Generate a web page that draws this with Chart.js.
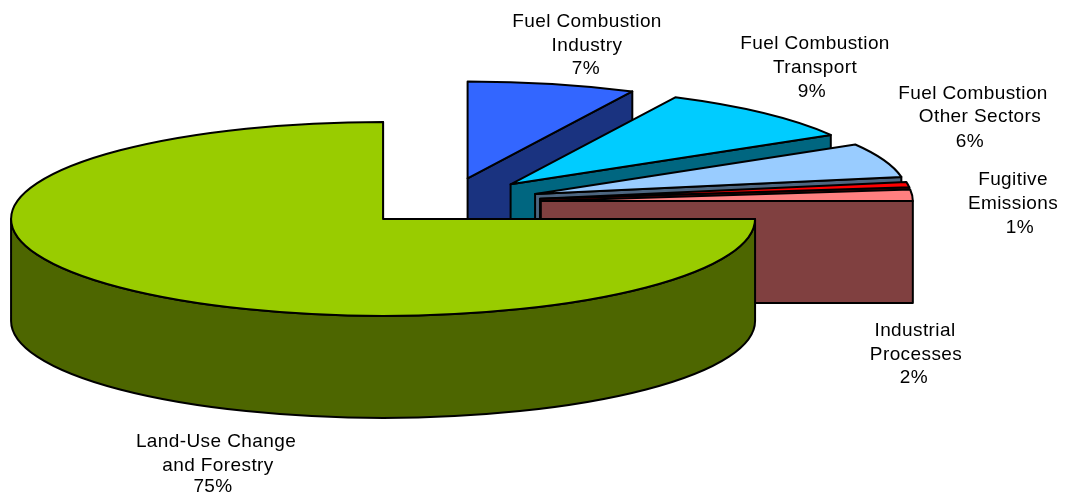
<!DOCTYPE html>
<html>
<head>
<meta charset="utf-8">
<title>Emissions by sector</title>
<script src="https://cdn.jsdelivr.net/npm/chart.js@4"></script>
<style>
  html, body { margin: 0; padding: 0; background: #fff; }
  canvas { display: block; }
</style>
</head>
<body>
<canvas id="pieChart" width="1067" height="494"></canvas>
<script>
const categories = ['Land-Use Change and Forestry', 'Fuel Combustion Industry', 'Fuel Combustion Transport', 'Fuel Combustion Other Sectors', 'Fugitive Emissions', 'Industrial Processes'];
const shares = [75, 7.3, 9.2, 5.7, 0.9, 1.9];
const topColors = ['#99CC00', '#3366FF', '#00CCFF', '#99CCFF', '#FF0000', '#FF8080'];
const sideColors = ['#4D6600', '#1A3380', '#006680', '#4D6680', '#800000', '#804040'];
const labelLines = [
  ['Land-Use Change', 'and Forestry', '75%'],
  ['Fuel Combustion', 'Industry', '7%'],
  ['Fuel Combustion', 'Transport', '9%'],
  ['Fuel Combustion', 'Other Sectors', '6%'],
  ['Fugitive', 'Emissions', '1%'],
  ['Industrial', 'Processes', '2%']
];
// centre of each label line, the reference is not quite aligned
const labelSpots = [
  [[216, 442], [218, 466], [213, 487]],
  [[587, 22], [587, 46], [586, 69]],
  [[815, 44], [815, 68], [812, 92]],
  [[973, 94], [980, 117], [970, 142]],
  [[1013, 180], [1013, 204], [1020, 228]],
  [[915, 331], [916, 355], [914, 378]]
];

// flattened pie geometry
const centerX = 446, centerY = 202.5;
const radiusX = 372, radiusY = 97, depth = 102;
const explode = [89, 95, 95, 95, 95, 95];

const pie3d = {
  id: 'pie3d',
  beforeDatasetsDraw(chart) {
    const ctx = chart.ctx;
    const arcs = chart.getDatasetMeta(0).data;
    // back to front, the big slice goes last
    [1, 2, 3, 4, 5, 0].forEach(i => {
      const arc = arcs[i];
      const start = arc.startAngle, end = arc.endAngle;
      const mid = (start + end) / 2;
      const ax = centerX + Math.cos(mid) * explode[i];
      const ay = centerY + Math.sin(mid) * explode[i] * radiusY / radiusX;
      const rimX = a => ax + Math.cos(a) * radiusX;
      const rimY = a => ay + Math.sin(a) * radiusY;

      ctx.save();
      ctx.lineWidth = 2;
      ctx.lineJoin = 'round';
      ctx.strokeStyle = '#000';
      ctx.fillStyle = sideColors[i];

      // flat faces
      const face = a => {
        ctx.beginPath();
        ctx.moveTo(ax, ay);
        ctx.lineTo(rimX(a), rimY(a));
        ctx.lineTo(rimX(a), rimY(a) + depth);
        ctx.lineTo(ax, ay + depth);
        ctx.closePath();
        ctx.fill();
        ctx.stroke();
      };
      if (Math.cos(start) < -1e-6) face(start);
      if (Math.cos(end) > -1e-6) face(end);

      // curved wall, only the part facing us
      if (start < Math.PI) {
        const wallEnd = Math.min(end, Math.PI);
        ctx.beginPath();
        ctx.ellipse(ax, ay, radiusX, radiusY, 0, start, wallEnd);
        ctx.ellipse(ax, ay + depth, radiusX, radiusY, 0, wallEnd, start, true);
        ctx.closePath();
        ctx.fill();
        ctx.stroke();
      }

      // top face comes from the chart's own arc
      ctx.save();
      ctx.translate(ax, ay);
      ctx.scale(radiusX / arc.outerRadius, radiusY / arc.outerRadius);
      ctx.translate(-arc.x, -arc.y);
      arc.draw(ctx);
      ctx.restore();

      ctx.beginPath();
      ctx.moveTo(ax, ay);
      ctx.ellipse(ax, ay, radiusX, radiusY, 0, start, end);
      ctx.closePath();
      ctx.stroke();
      ctx.restore();
    });
    return false;
  },
  afterDraw(chart) {
    const ctx = chart.ctx;
    ctx.save();
    ctx.fillStyle = '#000';
    ctx.font = '19px "Liberation Sans", Arial, sans-serif';
    ctx.letterSpacing = '0.4px';
    ctx.textAlign = 'center';
    ctx.textBaseline = 'middle';
    labelLines.forEach((lines, i) => {
      lines.forEach((line, j) => {
        ctx.fillText(line, labelSpots[i][j][0], labelSpots[i][j][1]);
      });
    });
    ctx.restore();
  }
};

new Chart(document.getElementById('pieChart').getContext('2d'), {
  type: 'pie',
  data: {
    labels: categories,
    datasets: [{
      data: shares,
      backgroundColor: topColors,
      borderWidth: 0
    }]
  },
  options: {
    responsive: false,
    animation: false,
    rotation: 90,
    layout: { padding: 0 },
    plugins: {
      legend: { display: false },
      tooltip: { enabled: false }
    }
  },
  plugins: [pie3d]
});
</script>
</body>
</html>
